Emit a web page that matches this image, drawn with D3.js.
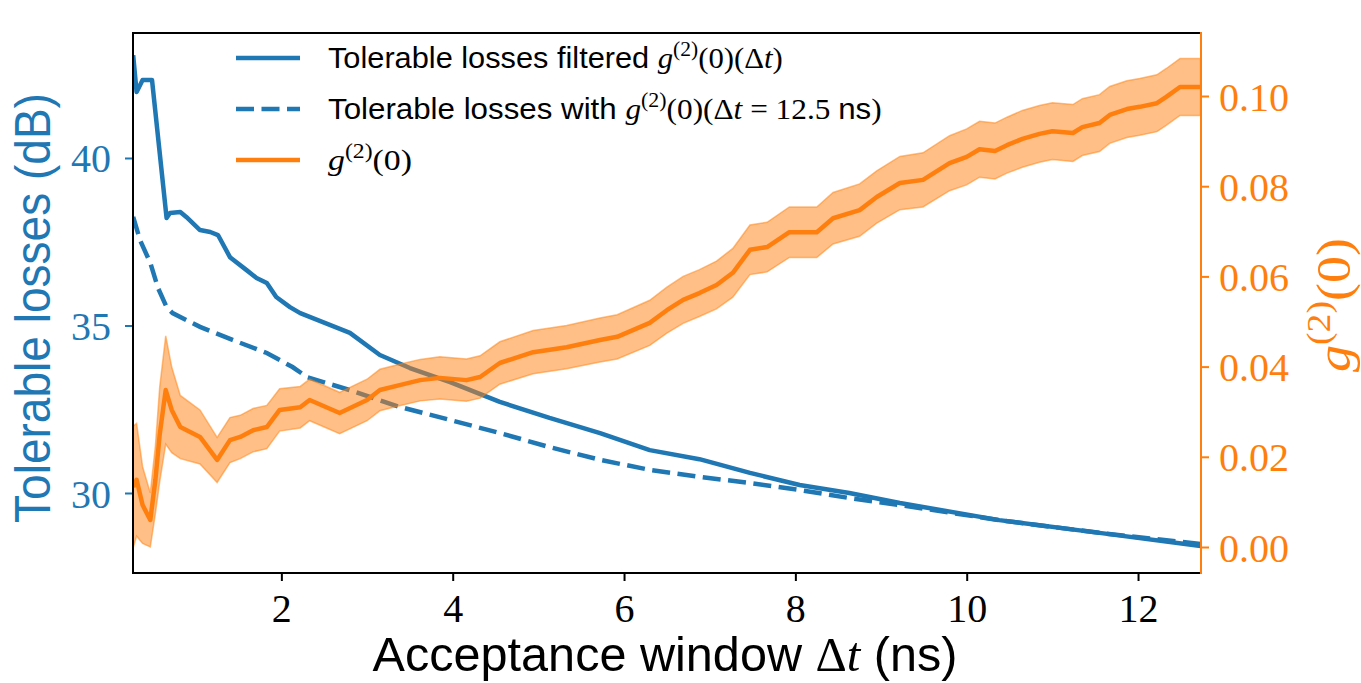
<!DOCTYPE html>
<html>
<head>
<meta charset="utf-8">
<script src="https://cdn.jsdelivr.net/npm/d3@7"></script>
<style>
  html, body { margin: 0; padding: 0; background: #fff; }
  svg { display: block; }
</style>
</head>
<body>
<svg id="chart" width="1361" height="683"></svg>
<script>
// ---- data -----------------------------------------------------------------
// Tolerable losses with the filtered g2(0)(Δt), in dB
const tFiltered = [0.27, 0.31, 0.38, 0.49, 0.66, 0.70, 0.82, 0.89, 1.05, 1.17, 1.26, 1.40,
  1.59, 1.71, 1.83, 1.94, 2.10, 2.22, 2.80, 3.15, 3.50, 3.97, 4.55, 5.13, 5.72, 6.30,
  6.88, 7.47, 8.05, 8.63, 9.22, 10.38, 11.55, 12.73];
const lossFiltered = [43.07, 41.97, 42.33, 42.33, 38.21, 38.36, 38.39, 38.24, 37.85, 37.79, 37.70, 37.04,
  36.66, 36.42, 36.27, 35.85, 35.55, 35.37, 34.78, 34.12, 33.73, 33.31, 32.72, 32.24, 31.79, 31.28,
  31.01, 30.60, 30.24, 30.00, 29.70, 29.19, 28.81, 28.42];

// Tolerable losses with g2(0) fixed at Δt = 12.5 ns, in dB
const tFixed = [0.27, 0.35, 0.47, 0.56, 0.66, 0.73, 1.05, 1.43, 1.83, 2.13, 2.30, 2.80,
  3.38, 3.97, 4.55, 5.13, 5.72, 6.30, 6.88, 7.47, 8.05, 8.63, 9.22, 10.38, 11.55, 12.73];
const lossFixed = [38.24, 37.55, 36.87, 36.12, 35.55, 35.37, 34.96, 34.57, 34.18, 33.76, 33.46, 33.07,
  32.57, 32.18, 31.79, 31.37, 30.99, 30.69, 30.48, 30.30, 30.09, 29.85, 29.64, 29.19, 28.81, 28.48];

// Measured g2(0) versus acceptance window, with its uncertainty
const tG2 = [0.27, 0.31, 0.38, 0.47, 0.53, 0.58, 0.65, 0.72, 0.82, 1.05, 1.25, 1.40, 1.52, 1.67,
  1.83, 1.98, 2.22, 2.33, 2.68, 3.00, 3.15, 3.38, 3.62, 3.85, 4.16, 4.32, 4.55, 4.94, 5.33,
  5.72, 5.92, 6.30, 6.50, 6.69, 6.88, 7.08, 7.27, 7.47, 7.67, 7.93, 8.25, 8.44, 8.75, 8.95,
  9.22, 9.49, 9.80, 10.00, 10.15, 10.33, 10.47, 10.65, 10.85, 11.00, 11.24, 11.35, 11.55,
  11.67, 11.87, 12.02, 12.22, 12.33, 12.49, 12.73];
const g2 = [0.0133, 0.0149, 0.0093, 0.0060, 0.0150, 0.0250, 0.0348, 0.0304, 0.0266, 0.0244, 0.0193,
  0.0237, 0.0244, 0.0259, 0.0266, 0.0304, 0.0310, 0.0326, 0.0297, 0.0326, 0.0348, 0.0359, 0.0370,
  0.0375, 0.0370, 0.0377, 0.0408, 0.0432, 0.0443, 0.0459, 0.0466, 0.0497, 0.0525, 0.0548, 0.0563,
  0.0581, 0.0608, 0.0659, 0.0665, 0.0698, 0.0698, 0.0729, 0.0747, 0.0776, 0.0807, 0.0814, 0.0851,
  0.0865, 0.0882, 0.0878, 0.0891, 0.0905, 0.0916, 0.0922, 0.0918, 0.0931, 0.0940, 0.0958, 0.0971,
  0.0976, 0.0984, 0.0998, 0.1020, 0.1020];
const g2Err = [0.0135, 0.0125, 0.0085, 0.0060, 0.0075, 0.0105, 0.0120, 0.0095, 0.0070, 0.0060, 0.0050,
  0.0050, 0.0048, 0.0048, 0.0048, 0.0047, 0.0046, 0.0046, 0.0046, 0.0046, 0.0046, 0.0046, 0.0046,
  0.0047, 0.0047, 0.0047, 0.0047, 0.0048, 0.0048, 0.0049, 0.0049, 0.0050, 0.0051, 0.0052, 0.0052,
  0.0053, 0.0054, 0.0055, 0.0055, 0.0056, 0.0056, 0.0057, 0.0058, 0.0058, 0.0059, 0.0060, 0.0061,
  0.0062, 0.0062, 0.0062, 0.0062, 0.0063, 0.0063, 0.0063, 0.0063, 0.0063, 0.0063, 0.0063, 0.0063,
  0.0063, 0.0063, 0.0063, 0.0063, 0.0063];

const xTicks = [2, 4, 6, 8, 10, 12];
const lossTicks = [30, 35, 40];
const g2Ticks = [0.00, 0.02, 0.04, 0.06, 0.08, 0.10];

// ---- setup ----------------------------------------------------------------
const BLUE = "#1f77b4", ORANGE = "#ff7f0e";
const SERIF = "'Liberation Serif', 'DejaVu Serif', serif";
const SANS = "'Liberation Sans', Arial, sans-serif";
const box = { left: 133, right: 1201, top: 33, bottom: 573 };

const svg = d3.select("#chart");
svg.append("rect").attr("width", 1361).attr("height", 683).attr("fill", "#fff");

const x = d3.scaleLinear().domain([0.268, 12.735]).range([box.left, box.right]);
const yLoss = d3.scaleLinear().domain([27.612, 43.731]).range([box.bottom, box.top]);
const yG2 = d3.scaleLinear().domain([-0.005765, 0.11397]).range([box.bottom, box.top]);

svg.append("clipPath").attr("id", "plotClip").append("rect")
  .attr("x", box.left).attr("y", box.top)
  .attr("width", box.right - box.left).attr("height", box.bottom - box.top);

const plotArea = svg.append("g").attr("clip-path", "url(#plotClip)");

// ---- tolerable losses (left axis) -----------------------------------------
const filteredPts = tFiltered.map((t, i) => [t, lossFiltered[i]]);
const fixedPts = tFixed.map((t, i) => [t, lossFixed[i]]);
const lossLine = d3.line().x(d => x(d[0])).y(d => yLoss(d[1]));

plotArea.append("path").datum(filteredPts).attr("d", lossLine)
  .attr("fill", "none").attr("stroke", BLUE).attr("stroke-width", 4.5)
  .attr("stroke-linejoin", "round");
plotArea.append("path").datum(fixedPts).attr("d", lossLine)
  .attr("fill", "none").attr("stroke", BLUE).attr("stroke-width", 4.5)
  .attr("stroke-dasharray", "18,7.5");

// ---- g2(0) with uncertainty band (right axis) -----------------------------
const g2Pts = tG2.map((t, i) => ({ t, v: g2[i], e: g2Err[i] }));
const band = d3.area().x(d => x(d.t)).y0(d => yG2(d.v - d.e)).y1(d => yG2(d.v + d.e));
plotArea.append("path").datum(g2Pts).attr("d", band)
  .attr("fill", ORANGE).attr("fill-opacity", 0.5)
  .attr("stroke", ORANGE).attr("stroke-opacity", 0.5).attr("stroke-width", 1.5);
plotArea.append("path").datum(g2Pts)
  .attr("d", d3.line().x(d => x(d.t)).y(d => yG2(d.v)))
  .attr("fill", "none").attr("stroke", ORANGE).attr("stroke-width", 4.5)
  .attr("stroke-linejoin", "round");

// ---- axes -----------------------------------------------------------------
function styleAxis(g, color) {
  g.select(".domain").remove();
  g.selectAll(".tick line").attr("stroke", color).attr("stroke-width", 2);
  g.selectAll(".tick text").attr("fill", color)
    .attr("font-family", SERIF).attr("font-size", 40);
}

const xAxis = svg.append("g").attr("transform", `translate(0,${box.bottom})`)
  .call(d3.axisBottom(x).tickValues(xTicks).tickFormat(d3.format("d")).tickSize(8));
styleAxis(xAxis, "#000");
xAxis.selectAll(".tick text").attr("y", 49).attr("dy", 0);

const yAxisL = svg.append("g").attr("transform", `translate(${box.left},0)`)
  .call(d3.axisLeft(yLoss).tickValues(lossTicks).tickFormat(d3.format("d")).tickSize(8));
styleAxis(yAxisL, BLUE);
yAxisL.selectAll(".tick text").attr("x", -22).attr("dy", 14);

const yAxisR = svg.append("g").attr("transform", `translate(${box.right},0)`)
  .call(d3.axisRight(yG2).tickValues(g2Ticks).tickFormat(d3.format(".2f")).tickSize(8));
styleAxis(yAxisR, ORANGE);
yAxisR.selectAll(".tick text").attr("x", 18).attr("dy", 14);

// spines
const spines = svg.append("g").attr("fill", "none").attr("stroke-width", 2);
spines.append("line").attr("x1", box.left).attr("x2", box.right).attr("y1", box.top).attr("y2", box.top).attr("stroke", "#000");
spines.append("line").attr("x1", box.left).attr("x2", box.right).attr("y1", box.bottom).attr("y2", box.bottom).attr("stroke", "#000");
spines.append("line").attr("x1", box.left).attr("x2", box.left).attr("y1", box.top - 1).attr("y2", box.bottom + 1).attr("stroke", "#000");
spines.append("line").attr("x1", box.right).attr("x2", box.right).attr("y1", box.top - 1).attr("y2", box.bottom + 1).attr("stroke", ORANGE);

// ---- mixed text/maths labels ----------------------------------------------
// parts: {s, sans, it, rise}  rise = baseline shift in em (positive = up)
function richText(parent, parts, size, fill) {
  const txt = parent.append("text").attr("font-size", size).attr("fill", fill);
  let cur = 0;
  parts.forEach(p => {
    const rise = p.rise || 0;
    const sp = txt.append("tspan").text(p.s)
      .attr("font-family", p.sans ? SANS : SERIF)
      .attr("font-style", p.it ? "italic" : "normal");
    if (p.small) sp.attr("font-size", size * 0.7);
    if (rise !== cur) { sp.attr("dy", -(rise - cur) * size); cur = rise; }
  });
  return txt;
}
// squeeze/stretch a label horizontally so that it spans the given width
function placeFit(txt, width, tx, ty, rot) {
  const w = txt.node().getBBox().width;
  const s = width / w;
  txt.attr("transform", `translate(${tx},${ty})` + (rot ? ` rotate(${rot})` : "") + ` scale(${s},1)`);
}

// axis titles
const xTitle = richText(svg, [
  { s: "Acceptance window ", sans: true },
  { s: "Δ" }, { s: "t", it: true },
  { s: " (ns)", sans: true }
], 48, "#000").attr("text-anchor", "middle");
placeFit(xTitle, 585, 665, 671);

const yTitleL = richText(svg, [{ s: "Tolerable losses (dB)", sans: true }], 50, BLUE)
  .attr("text-anchor", "middle");
placeFit(yTitleL, 430, 50, 308, -90);

const yTitleR = richText(svg, [
  { s: "g", it: true }, { s: "(2)", small: true, rise: 0.42 }, { s: "(0)", rise: 0 }
], 48, ORANGE).attr("text-anchor", "middle");
placeFit(yTitleR, 134, 1350, 305, -90);

// ---- legend ---------------------------------------------------------------
const legend = svg.append("g");
const legendRows = [
  { y: 58, dash: null, color: BLUE, width: 455, parts: [
      { s: "Tolerable losses filtered ", sans: true },
      { s: "g", it: true }, { s: "(2)", small: true, rise: 0.42 },
      { s: "(0)(Δ", rise: 0 }, { s: "t", it: true }, { s: ")" }] },
  { y: 109, dash: "18,7.5", color: BLUE, width: 554, parts: [
      { s: "Tolerable losses with ", sans: true },
      { s: "g", it: true }, { s: "(2)", small: true, rise: 0.42 },
      { s: "(0)(Δ", rise: 0 }, { s: "t", it: true }, { s: " = 12.5 " },
      { s: "ns", sans: true }, { s: ")" }] },
  { y: 160, dash: null, color: ORANGE, width: 84, parts: [
      { s: "g", it: true }, { s: "(2)", small: true, rise: 0.42 }, { s: "(0)", rise: 0 }] }
];
legendRows.forEach(r => {
  const ln = legend.append("line").attr("x1", 236).attr("x2", 300)
    .attr("y1", r.y).attr("y2", r.y)
    .attr("stroke", r.color).attr("stroke-width", 4.5);
  if (r.dash) ln.attr("stroke-dasharray", r.dash);
  const txt = richText(legend, r.parts, 29, "#000");
  placeFit(txt, r.width, 328, r.y + 10);
});
</script>
</body>
</html>
